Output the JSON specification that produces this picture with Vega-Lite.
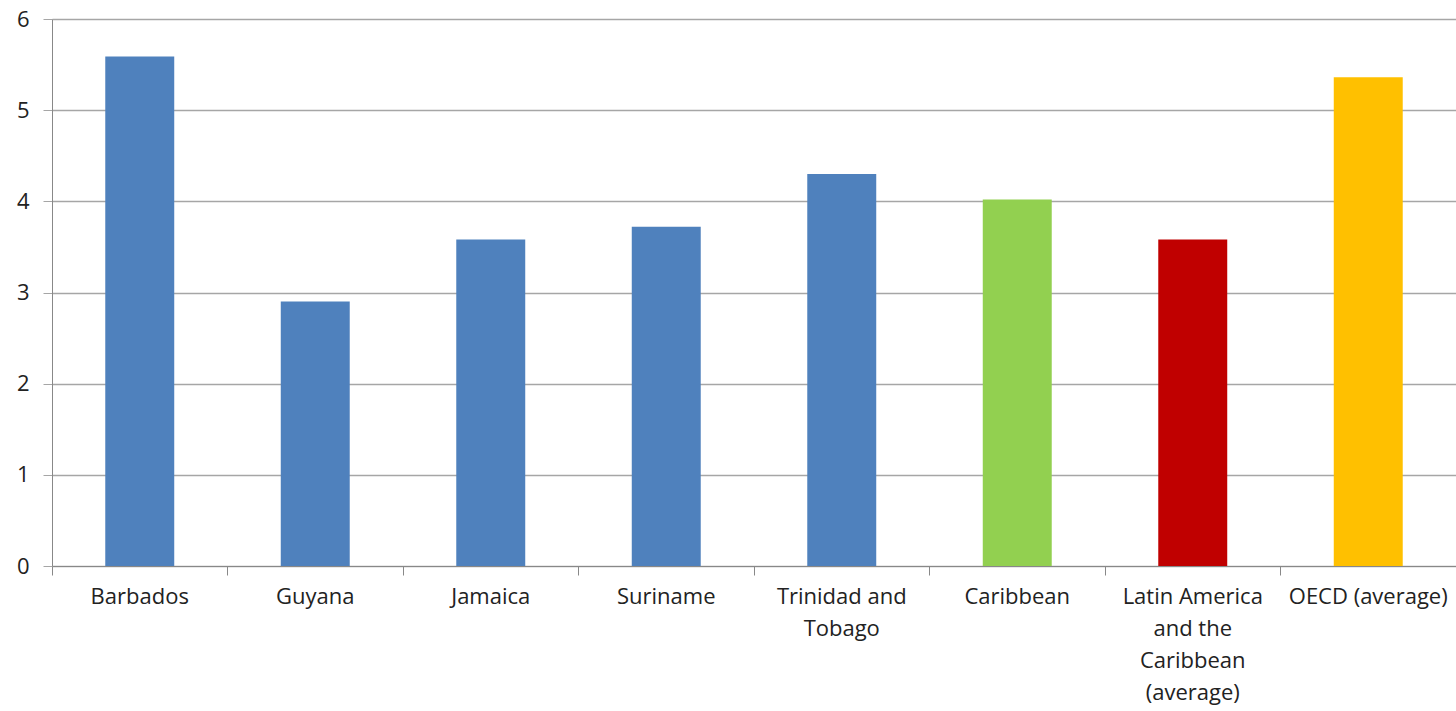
{
  "$schema": "https://vega.github.io/schema/vega-lite/v6.json",
  "width": 1404,
  "height": 547,
  "autosize": {"type": "none"},
  "padding": {"left": 52, "top": 19, "right": 0, "bottom": 145},
  "background": "white",
  "config": {"view": {"stroke": null}, "font": "Open Sans"},
  "data": {
    "values": [
      {"name": "Barbados", "group": "Country", "value": 5.59},
      {"name": "Guyana", "group": "Country", "value": 2.9},
      {"name": "Jamaica", "group": "Country", "value": 3.58},
      {"name": "Suriname", "group": "Country", "value": 3.72},
      {"name": "Trinidad and Tobago", "group": "Country", "value": 4.3},
      {"name": "Caribbean", "group": "Caribbean", "value": 4.02},
      {"name": "Latin America and the Caribbean (average)", "group": "LAC", "value": 3.58},
      {"name": "OECD (average)", "group": "OECD", "value": 5.36}
    ]
  },
  "mark": {"type": "bar", "width": {"band": 0.393}},
  "encoding": {
    "x": {
      "field": "name",
      "type": "nominal",
      "sort": null,
      "scale": {"paddingInner": 0, "paddingOuter": 0},
      "axis": {
        "title": null,
        "labelAngle": 0,
        "bandPosition": 0,
        "domainColor": "#888888",
        "tickColor": "#888888",
        "tickSize": 9,
        "labelFontSize": 22,
        "labelColor": "#222222",
        "labelPadding": 11,
        "labelLineHeight": 32,
        "labelBaseline": "top",
        "labelExpr": "datum.value == 'Trinidad and Tobago' ? ['Trinidad and', 'Tobago'] : datum.value == 'Latin America and the Caribbean (average)' ? ['Latin America', 'and the', 'Caribbean', '(average)'] : datum.value",
        "labelBound": false,
        "labelOverlap": false
      }
    },
    "y": {
      "field": "value",
      "type": "quantitative",
      "scale": {"domain": [0, 6], "nice": false},
      "axis": {
        "title": null,
        "values": [0, 1, 2, 3, 4, 5, 6],
        "gridColor": "#A6A6A6",
        "gridWidth": 1.5,
        "domainColor": "#888888",
        "tickColor": "#A6A6A6",
        "tickSize": 9,
        "labelFontSize": 22,
        "labelColor": "#222222",
        "labelPadding": 14
      }
    },
    "color": {
      "field": "group",
      "type": "nominal",
      "scale": {"domain": ["Country", "Caribbean", "LAC", "OECD"], "range": ["#4F81BD", "#92D050", "#C00000", "#FFC000"]},
      "legend": null
    }
  }
}
